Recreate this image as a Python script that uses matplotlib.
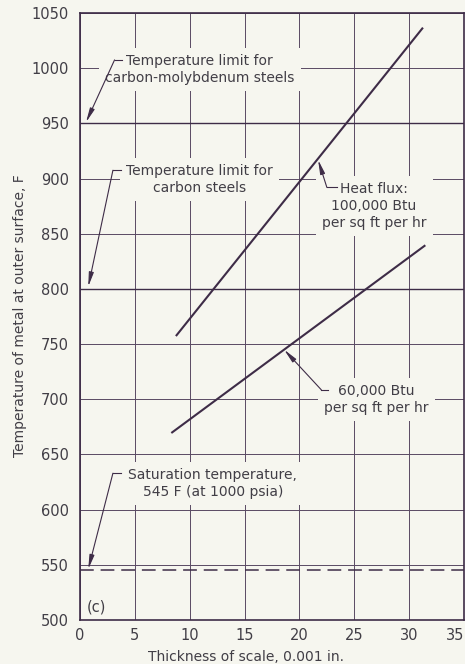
import matplotlib.pyplot as plt

# Values
heat_flux_100k_thickness = [8.8, 31.2]     # scale thickness, 0.001 in.
heat_flux_100k_temp = [758, 1036]          # metal temperature, F
heat_flux_60k_thickness = [8.4, 31.4]
heat_flux_60k_temp = [670, 839]

carbon_moly_limit = 950
carbon_steel_limit = 800
saturation_temp = 545

x_ticks = [0, 5, 10, 15, 20, 25, 30, 35]
y_ticks = [500, 550, 600, 650, 700, 750, 800, 850, 900, 950, 1000, 1050]

bg_color = '#f6f6ef'
ink = '#3e2c47'
grid_color = '#5a4a63'
text_color = '#413e46'

plt.rcParams['font.family'] = 'DejaVu Sans'

fig = plt.figure(figsize=(4.65, 6.64), dpi=100, facecolor=bg_color)
ax = fig.add_axes([80 / 465, 1 - 620 / 664, 384 / 465, 607 / 664])
ax.set_facecolor(bg_color)

ax.set_xlim(0, 35)
ax.set_ylim(500, 1050)
ax.set_xticks(x_ticks)
ax.set_yticks(y_ticks)
ax.tick_params(length=0, labelsize=10.5, labelcolor=text_color)
ax.tick_params(axis='y', pad=8)
ax.tick_params(axis='x', pad=6)
# last x label sits on the figure edge, keep it inside
ax.get_xticklabels()[-1].set_ha('right')

# grid
ax.grid(True, color=grid_color, lw=0.7)
ax.set_axisbelow(True)
for spine in ax.spines.values():
    spine.set_color(ink)
    spine.set_linewidth(1.2)

# temperature limits and saturation line
ax.axhline(carbon_moly_limit, color=ink, lw=1.0, zorder=2)
ax.axhline(carbon_steel_limit, color=ink, lw=1.0, zorder=2)
ax.axhline(saturation_temp, color=ink, lw=1.1, dashes=(9, 4.5), zorder=2)

# heat flux lines
ax.plot(heat_flux_100k_thickness, heat_flux_100k_temp, color=ink, lw=1.5, zorder=5)
ax.plot(heat_flux_60k_thickness, heat_flux_60k_temp, color=ink, lw=1.5, zorder=5)

box = dict(boxstyle='square,pad=0.45', facecolor=bg_color, edgecolor='none')


def label_with_leader(text, text_xy, hook_end, corner, tip):
    ax.text(*text_xy, text, ha='center', va='center', multialignment='center',
            fontsize=10, color=text_color, linespacing=1.25, bbox=box, zorder=3)
    ax.plot([hook_end[0], corner[0]], [hook_end[1], corner[1]], color=ink, lw=0.8, zorder=6)
    ax.annotate('', xy=tip, xytext=corner,
                arrowprops=dict(arrowstyle='-|>,head_length=0.7,head_width=0.12',
                                color=ink, lw=0.8, shrinkA=0, shrinkB=0,
                                mutation_scale=12),
                zorder=6)


label_with_leader('Temperature limit for\ncarbon-molybdenum steels',
                  (10.9, 999), (3.85, 1007.5), (3.15, 1007.5), (0.55, 951))
label_with_leader('Temperature limit for\ncarbon steels',
                  (10.9, 899), (3.7, 907.5), (3.0, 907.5), (0.75, 802))
label_with_leader('Saturation temperature,\n545 F (at 1000 psia)',
                  (12.1, 624), (3.7, 633), (3.0, 633), (0.75, 546))
label_with_leader('Heat flux:\n100,000 Btu\nper sq ft per hr',
                  (26.8, 875), (23.4, 892), (22.5, 892), (21.7, 917))
label_with_leader('60,000 Btu\nper sq ft per hr',
                  (27.0, 700), (22.6, 708.5), (22.0, 708.5), (18.6, 745))

ax.text(0.65, 512, '(c)', ha='left', va='center', fontsize=10.5, color=text_color)

# axis labels
ax.set_xlabel('Thickness of scale, 0.001 in.', fontsize=10, color=text_color)
ax.xaxis.set_label_coords(0.431, -0.061)
ax.xaxis.label.set_va('center')
ax.set_ylabel('Temperature of metal at outer surface, F', fontsize=10, color=text_color)
ax.yaxis.set_label_coords(-0.156, 0.502)
ax.yaxis.label.set_va('center')

plt.savefig('out.png', dpi=100, facecolor=bg_color)
